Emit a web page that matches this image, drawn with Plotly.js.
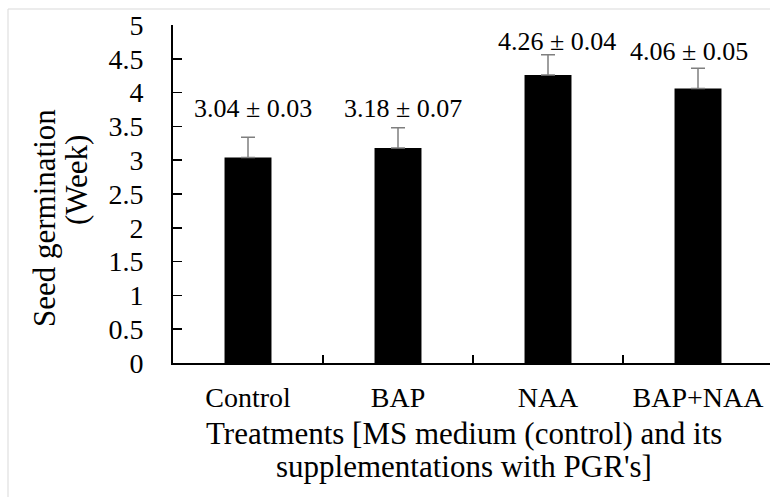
<!DOCTYPE html>
<html>
<head>
<meta charset="utf-8">
<script src="https://cdn.plot.ly/plotly-3.0.1.min.js"></script>
<style>
html,body{margin:0;padding:0;overflow:hidden;background:#fff;}
#chart{width:776px;height:497px;}
</style>
</head>
<body>
<div id="chart"></div>
<script>
// ---- data ----
const categories = ["Control", "BAP", "NAA", "BAP+NAA"];
const meanWeeks = [3.04, 3.18, 4.26, 4.06];
const semWeeks = [0.03, 0.07, 0.04, 0.05];
const errorBarPlus = [0.3, 0.3, 0.3, 0.3];
const yTickVals = [0, 0.5, 1, 1.5, 2, 2.5, 3, 3.5, 4, 4.5, 5];
const yTickText = ["0", "0.5", "1", "1.5", "2", "2.5", "3", "3.5", "4", "4.5", "5"];

// ---- label placement (layout only) ----
const labelY = [3.76, 3.76, 4.76, 4.61];
const labelShift = [5, 5, 9, -9];

const FONT = "Liberation Serif";
const FS_LABEL = 26;
const FS_TICK = 28;
const FS_TITLE = 31;

const trace = {
  type: "bar",
  x: categories,
  y: meanWeeks,
  marker: {color: "#000000", line: {width: 0}},
  error_y: {type: "data", symmetric: false, array: errorBarPlus, arrayminus: errorBarPlus.map(() => 0),
            color: "#7f7f7f", thickness: 1.5, width: 7},
  hoverinfo: "skip"
};

const annotations = categories.map((c, i) => ({
  x: c, y: labelY[i], xref: "x", yref: "y",
  text: meanWeeks[i].toFixed(2) + " ± " + semWeeks[i].toFixed(2),
  showarrow: false, xshift: labelShift[i], yanchor: "middle", xanchor: "center",
  font: {family: FONT, size: FS_LABEL, color: "#000"}
}));

// y-axis title (two lines)
annotations.push({xref: "paper", yref: "paper", x: (45 - 173) / 600, y: (363 - 218) / 338,
  text: "Seed germination", textangle: -90, showarrow: false, xanchor: "center", yanchor: "middle",
  font: {family: FONT, size: FS_TITLE, color: "#000"}});
annotations.push({xref: "paper", yref: "paper", x: (76 - 173) / 600, y: (363 - 180) / 338,
  text: "(Week)", textangle: -90, showarrow: false, xanchor: "center", yanchor: "middle",
  font: {family: FONT, size: FS_TITLE, color: "#000"}});
// x-axis title (two lines)
annotations.push({xref: "paper", yref: "paper", x: (464 - 173) / 600, y: (363 - 433) / 338,
  text: "Treatments [MS medium (control) and its", showarrow: false, xanchor: "center", yanchor: "middle",
  font: {family: FONT, size: FS_TITLE, color: "#000"}});
annotations.push({xref: "paper", yref: "paper", x: (464 - 173) / 600, y: (363 - 466) / 338,
  text: "supplementations with PGR's]", showarrow: false, xanchor: "center", yanchor: "middle",
  font: {family: FONT, size: FS_TITLE, color: "#000"}});

const layout = {
  width: 776, height: 497,
  margin: {l: 173, r: 3, t: 25, b: 134, pad: 0},
  paper_bgcolor: "#ffffff", plot_bgcolor: "#ffffff",
  showlegend: false,
  bargap: 0.687,
  font: {family: FONT, size: FS_TICK, color: "#000"},
  xaxis: {
    type: "category",
    showline: true, linecolor: "#000", linewidth: 2,
    ticks: "inside", ticklen: 8, tickcolor: "#000", tickwidth: 1.5,
    tickson: "boundaries",
    showgrid: false, zeroline: false,
    ticklabelstandoff: 8,
    tickfont: {family: FONT, size: FS_TICK, color: "#000"}
  },
  yaxis: {
    range: [0, 5], tickvals: yTickVals, ticktext: yTickText,
    showline: true, linecolor: "#000", linewidth: 2,
    ticks: "inside", ticklen: 9, tickcolor: "#000", tickwidth: 1.5,
    showgrid: false, zeroline: false,
    ticklabelstandoff: 22,
    tickfont: {family: FONT, size: FS_TICK, color: "#000"}
  },
  annotations: annotations,
  shapes: [{type: "rect", xref: "paper", yref: "paper",
    x0: (8 - 173) / 600, x1: 1.2, y0: -0.6, y1: (363 - 9) / 338,
    line: {color: "#d9d9d9", width: 1}, fillcolor: "rgba(0,0,0,0)", layer: "below"}]
};

Plotly.newPlot("chart", [trace], layout, {displayModeBar: false, staticPlot: true});
</script>
</body>
</html>
